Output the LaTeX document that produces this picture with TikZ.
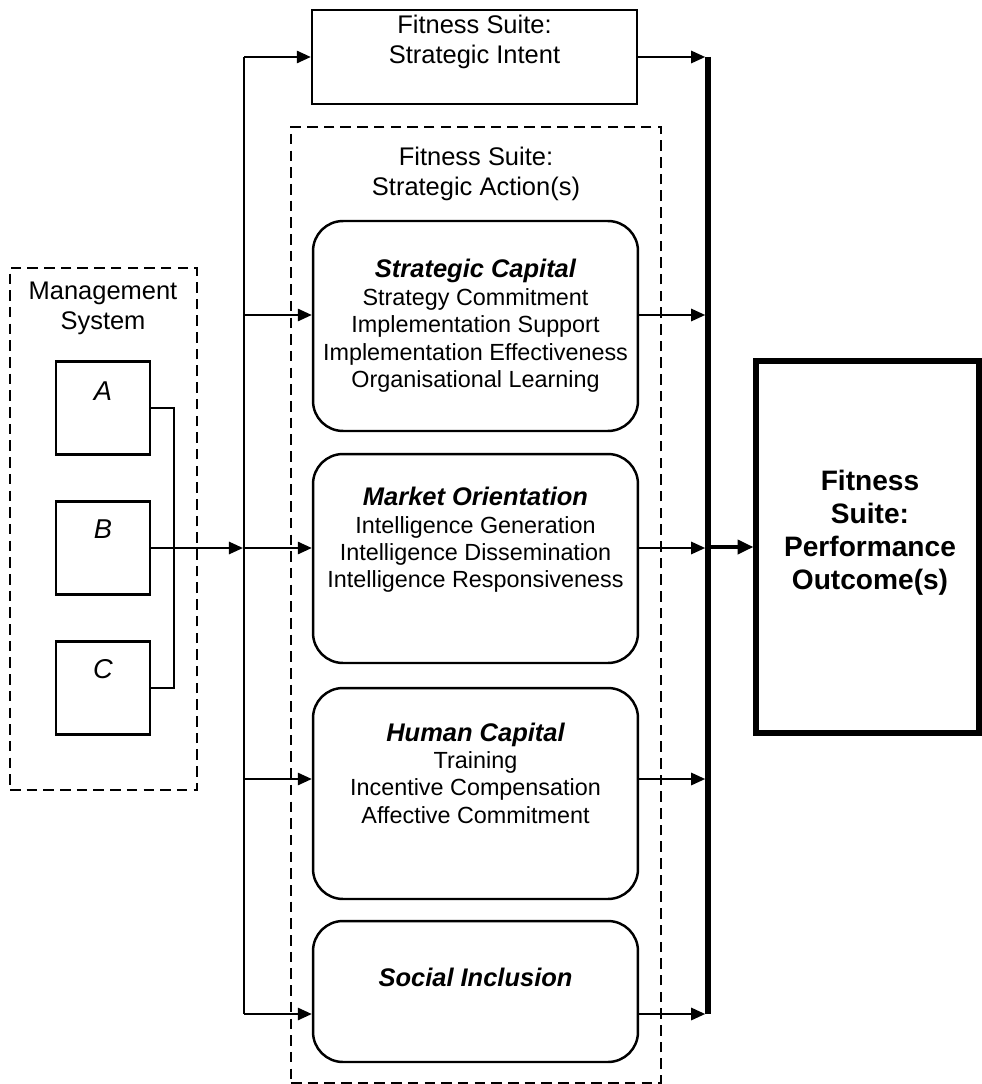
\documentclass[tikz,border=0pt]{standalone}
\usepackage{fontspec}
\setmainfont{Liberation Sans}
\usetikzlibrary{positioning,arrows.meta}
\newcommand{\boxtitle}[1]{{\fontsize{14.5}{17}\selectfont\bfseries\itshape #1}}

\begin{document}
\begin{tikzpicture}[x=0.02cm, y=-0.02cm]
\tikzstyle{dashbox} = [rectangle, draw=black, line width=1.2pt, dash pattern=on 6pt off 3.5pt]
\tikzstyle{sqbox} = [rectangle, draw=black, line width=1.4pt]
\tikzstyle{msbox} = [sqbox, minimum width=1.88cm, minimum height=1.86cm]
\tikzstyle{roundbox} = [rectangle, rounded corners=0.6cm, draw=black, line width=1.4pt, minimum width=6.5cm]
\tikzstyle{headtext} = [align=center, font=\fontsize{14.5}{17}\selectfont]
\tikzstyle{bodytext} = [align=center, font=\fontsize{13.3}{15.6}\selectfont]
\tikzstyle{arr} = [-{Triangle[length=8pt,width=7pt]}, line width=1.2pt]
\useasboundingbox (0,0) rectangle (982,1084);
% management system
\node (mgmt)[dashbox, minimum width=3.74cm, minimum height=10.44cm] at (103.5,529) {};
\node (mgmttext)[headtext] at (103,308) {Management\\System};
\node (A)[msbox] at (103,408) {};
\node (B)[msbox] at (103,548) {};
\node (C)[msbox] at (103,688) {};
\node (Atext)[headtext, font=\fontsize{15.5}{17}\selectfont\itshape] at (103,391) {A};
\node (Btext)[headtext, font=\fontsize{15.5}{17}\selectfont\itshape] at (103,529) {B};
\node (Ctext)[headtext, font=\fontsize{15.5}{17}\selectfont\itshape] at (103,669) {C};
% strategic intent and actions
\node (intent)[sqbox, minimum width=6.5cm, minimum height=1.88cm] at (474.5,57) {};
\node (intenttext)[headtext] at (474.5,42) {Fitness Suite:\\Strategic Intent};
\node (action)[dashbox, minimum width=7.4cm, minimum height=19.12cm] at (476,605) {};
\node (actiontext)[headtext] at (476,174) {Fitness Suite:\\Strategic Action(s)};
\node (sc)[roundbox, minimum height=4.2cm] at (475.5,326) {};
\node (sctext)[bodytext] at (475.5,326) {\boxtitle{Strategic Capital}\\Strategy Commitment\\Implementation Support\\Implementation Effectiveness\\Organisational Learning};
\node (mo)[roundbox, minimum height=4.18cm] at (475.5,558.5) {};
\node (motext)[bodytext] at (475.5,540) {\boxtitle{Market Orientation}\\Intelligence Generation\\Intelligence Dissemination\\Intelligence Responsiveness};
\node (hc)[roundbox, minimum height=4.22cm] at (475.5,793.5) {};
\node (hctext)[bodytext] at (475.5,773) {\boxtitle{Human Capital}\\Training\\Incentive Compensation\\Affective Commitment};
\node (si)[roundbox, minimum height=2.82cm] at (475.5,991.5) {};
\node (sitext)[bodytext] at (475.5,977) {\boxtitle{Social Inclusion}};
% performance outcome
\node (outcome)[rectangle, draw=black, line width=3pt, minimum width=4.46cm, minimum height=7.44cm] at (867.5,547) {};
\node (outcometext)[align=center, font=\fontsize{16}{18.8}\selectfont\bfseries] at (870,533) {Fitness\\Suite:\\Performance\\Outcome(s)};
\coordinate (brk) at (174,0);
\coordinate (busL) at (244,0);
\coordinate (busR) at (708,0);
\coordinate (rowSC) at (0,315);
\coordinate (rowMO) at (0,548);
\coordinate (rowHC) at (0,779);
\coordinate (rowSI) at (0,1014);
\draw [line width=1.5pt] (A.east) -| (brk |- C.east) -- (C.east);
\draw [arr, shorten >=0.6pt] (B.east) -- (busL |- B.east);
\draw [line width=1.2pt] (busL |- intent.west) -- (busL |- rowSI);
\draw [arr] (busL |- intent.west) -- (intent.west);
\draw [arr] (busL |- rowSC) -- (sc.west |- rowSC);
\draw [arr] (busL |- rowMO) -- (mo.west |- rowMO);
\draw [arr] (busL |- rowHC) -- (hc.west |- rowHC);
\draw [arr] (busL |- rowSI) -- (si.west |- rowSI);
\draw [line width=3.2pt] (busR |- intent.east) -- (busR |- rowSI);
\draw [arr, shorten >=1.6pt] (intent.east) -- (busR |- intent.east);
\draw [arr, shorten >=1.6pt] (sc.east |- rowSC) -- (busR |- rowSC);
\draw [arr, shorten >=1.6pt] (mo.east |- rowMO) -- (busR |- rowMO);
\draw [arr, shorten >=1.6pt] (hc.east |- rowHC) -- (busR |- rowHC);
\draw [arr, shorten >=1.6pt] (si.east |- rowSI) -- (busR |- rowSI);
\draw [-{Triangle[length=9pt,width=8pt]}, line width=2pt, shorten <=1.6pt] (busR |- outcome.west) -- (outcome.west);
\end{tikzpicture}
\end{document}
